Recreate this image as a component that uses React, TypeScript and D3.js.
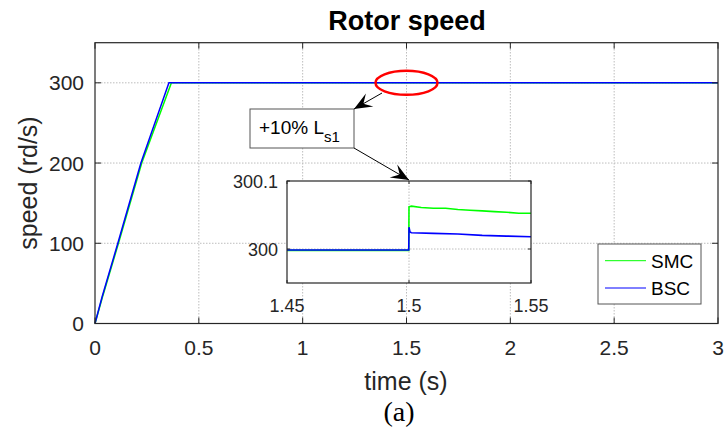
import React from "react";
import * as d3 from "d3";

const W = 725;
const H = 432;

// Main plot data (time in s, speed in rd/s)
const smcT = [0, 0.036, 0.113, 0.225, 0.368, 3];
const smcV = [0, 33, 100, 200, 300, 300];
const bscT = [0, 0.034, 0.11, 0.221, 0.356, 3];
const bscV = [0, 33, 100, 200, 300, 300];

const xTicks = [0, 0.5, 1, 1.5, 2, 2.5, 3];
const xTickLabels = ["0", "0.5", "1", "1.5", "2", "2.5", "3"];
const yTicks = [0, 100, 200, 300];
const yTickLabels = ["0", "100", "200", "300"];

// Inset (zoom) data
const inSmcT = [1.45, 1.47, 1.4999, 1.5, 1.501, 1.505, 1.51, 1.515, 1.52, 1.525, 1.53, 1.535, 1.54, 1.545, 1.55];
const inSmcV = [299.998, 299.998, 299.998, 300.062, 300.063, 300.061, 300.060, 300.060, 300.058, 300.057, 300.056, 300.055, 300.054, 300.0525, 300.0525];
const inBscT = [1.45, 1.47, 1.4999, 1.5, 1.5004, 1.501, 1.51, 1.52, 1.53, 1.54, 1.55];
const inBscV = [299.9985, 299.9985, 299.9985, 300.032, 300.025, 300.024, 300.023, 300.022, 300.020, 300.019, 300.018];
const inXTicks = [1.45, 1.5, 1.55];
const inXTickLabels = ["1.45", "1.5", "1.55"];
const inYTicks = [300, 300.1];
const inYTickLabels = ["300", "300.1"];

const legendItems = ["SMC", "BSC"];
const colors = ["#00ff00", "#0000ff"];

const FONT = "Liberation Sans, Arial, Helvetica, sans-serif";
const TXT = "#262626";

function arrowHead(x1: number, y1: number, x2: number, y2: number, L = 18, Wd = 15) {
  const a = Math.atan2(y2 - y1, x2 - x1);
  const ux = Math.cos(a), uy = Math.sin(a);
  const px = -uy, py = ux;
  const bx = x2 - ux * L, by = y2 - uy * L;
  const nx = x2 - ux * L * 0.6, ny = y2 - uy * L * 0.6;
  return `M${x2},${y2} L${bx + px * Wd / 2},${by + py * Wd / 2} L${nx},${ny} L${bx - px * Wd / 2},${by - py * Wd / 2} Z`;
}

export default function App() {
  const x = d3.scaleLinear().domain([0, 3]).range([95, 718]);
  const y = d3.scaleLinear().domain([0, 350]).range([323.5, 42.7]);

  const ix = d3.scaleLinear().domain([1.45, 1.55]).range([287, 531]);
  const iy = d3.scaleLinear().domain([299.95, 300.1]).range([283, 181]);

  const line = (tt: number[], vv: number[], sx: any, sy: any) =>
    d3.line<number>().x((_, i) => sx(tt[i])).y((d) => sy(d))(vv) as string;

  const [xl, xr] = x.range();
  const [yb, yt] = y.range();
  const [ixl, ixr] = ix.range();
  const [iyb, iyt] = iy.range();
  const tick = 6;

  // annotation geometry
  const ell = { cx: x(1.5), cy: y(300), rx: 31, ry: 12 };
  const box = { x: 250, y: 109, w: 104, h: 39 };
  const a1 = { x1: 382, y1: 93, x2: box.x + box.w, y2: box.y };
  const a2 = { x1: box.x + box.w, y1: box.y + box.h, x2: ix(1.5), y2: iyt - 1 };

  return (
    <svg width={W} height={H} style={{ display: "block", position: "absolute", left: 0, top: 0 }} fontFamily={FONT}>
      <rect width={W} height={H} fill="#fff" />
      {/* grid */}
      <g stroke="#bdbdbd" strokeWidth={1} strokeDasharray="1.5 1.5">
        {xTicks.slice(1, -1).map((t) => (
          <line key={"gx" + t} x1={x(t)} x2={x(t)} y1={yb} y2={yt} />
        ))}
        {yTicks.slice(1).map((t) => (
          <line key={"gy" + t} x1={xl} x2={xr} y1={y(t)} y2={y(t)} />
        ))}
      </g>
      {/* data */}
      <path d={line(smcT, smcV, x, y)} fill="none" stroke={colors[0]} strokeWidth={1.5} />
      <path d={line(bscT, bscV, x, y)} fill="none" stroke={colors[1]} strokeWidth={1.5} />
      {/* frame */}
      <rect x={xl} y={yt} width={xr - xl} height={yb - yt} fill="none" stroke={TXT} strokeWidth={1.2} />
      <g stroke={TXT} strokeWidth={1}>
        {xTicks.map((t) => (
          <g key={"tx" + t}>
            <line x1={x(t)} x2={x(t)} y1={yb} y2={yb - tick} />
            <line x1={x(t)} x2={x(t)} y1={yt} y2={yt + tick} />
          </g>
        ))}
        {yTicks.map((t) => (
          <g key={"ty" + t}>
            <line x1={xl} x2={xl + tick} y1={y(t)} y2={y(t)} />
            <line x1={xr} x2={xr - tick} y1={y(t)} y2={y(t)} />
          </g>
        ))}
      </g>
      <g fill={TXT} fontSize={21}>
        {xTicks.map((t, i) => (
          <text key={"lx" + t} x={x(t)} y={355} textAnchor="middle">{xTickLabels[i]}</text>
        ))}
        {yTicks.map((t, i) => (
          <text key={"ly" + t} x={xl - 11} y={y(t) + 7.5} textAnchor="end">{yTickLabels[i]}</text>
        ))}
      </g>
      <text x={406} y={390} textAnchor="middle" fontSize={25} fill={TXT}>time (s)</text>
      <text transform={`translate(37,183) rotate(-90)`} textAnchor="middle" fontSize={25} fill={TXT}>speed (rd/s)</text>
      <text x={407} y={30} textAnchor="middle" fontSize={27} fontWeight="bold" fill="#000">Rotor speed</text>
      <text x={399} y={421} textAnchor="middle" fontSize={28} fontFamily="Liberation Serif, Times New Roman, serif" fill="#000">(a)</text>

      {/* legend */}
      <rect x={598} y={244} width={103} height={60} fill="#fff" stroke="#555" strokeWidth={1} />
      {legendItems.map((name, i) => (
        <g key={name}>
          <line x1={605} x2={646} y1={260.7 + i * 27.3} y2={260.7 + i * 27.3} stroke={colors[i]} strokeWidth={1} />
          <text x={651} y={267.5 + i * 27.3} fontSize={19} fill="#000">{name}</text>
        </g>
      ))}

      {/* red ellipse */}
      <ellipse cx={ell.cx} cy={ell.cy} rx={ell.rx} ry={ell.ry} fill="none" stroke="#ff0000" strokeWidth={2.5} />

      {/* annotation box */}
      <rect x={box.x} y={box.y} width={box.w} height={box.h} fill="#fff" stroke="#555" strokeWidth={1} />
      <text x={259} y={134} fontSize={19} fill="#000">
        +10% L<tspan fontSize={15} dy={8}>s1</tspan>
      </text>

      {/* arrows */}
      <line x1={a1.x1} y1={a1.y1} x2={a1.x2} y2={a1.y2} stroke="#000" strokeWidth={1} />
      <path d={arrowHead(a1.x1, a1.y1, a1.x2, a1.y2)} fill="#000" />

      {/* inset */}
      <rect x={ixl} y={iyt} width={ixr - ixl} height={iyb - iyt} fill="#fff" />
      <g stroke="#bdbdbd" strokeWidth={1} strokeDasharray="1.5 1.5">
        <line x1={ix(1.5)} x2={ix(1.5)} y1={iyb} y2={iyt} />
        <line x1={ixl} x2={ixr} y1={iy(300)} y2={iy(300)} />
      </g>
      <path d={line(inSmcT, inSmcV, ix, iy)} fill="none" stroke={colors[0]} strokeWidth={1.6} />
      <path d={line(inBscT, inBscV, ix, iy)} fill="none" stroke={colors[1]} strokeWidth={1.6} />
      <rect x={ixl} y={iyt} width={ixr - ixl} height={iyb - iyt} fill="none" stroke={TXT} strokeWidth={1.2} />
      <g stroke={TXT} strokeWidth={1}>
        {inXTicks.map((t) => (
          <g key={"itx" + t}>
            <line x1={ix(t)} x2={ix(t)} y1={iyb} y2={iyb - 3} />
            <line x1={ix(t)} x2={ix(t)} y1={iyt} y2={iyt + 3} />
          </g>
        ))}
        {inYTicks.map((t) => (
          <g key={"ity" + t}>
            <line x1={ixl} x2={ixl + 3} y1={iy(t)} y2={iy(t)} />
            <line x1={ixr} x2={ixr - 3} y1={iy(t)} y2={iy(t)} />
          </g>
        ))}
      </g>
      <g fill={TXT} fontSize={18}>
        {inXTicks.map((t, i) => (
          <text key={"ilx" + t} x={ix(t)} y={312} textAnchor="middle">{inXTickLabels[i]}</text>
        ))}
        {inYTicks.map((t, i) => (
          <text key={"ily" + t} x={ixl - 9} y={iy(t) + 6.5} textAnchor="end">{inYTickLabels[i]}</text>
        ))}
      </g>

      <line x1={a2.x1} y1={a2.y1} x2={a2.x2} y2={a2.y2} stroke="#000" strokeWidth={1} />
      <path d={arrowHead(a2.x1, a2.y1, a2.x2, a2.y2)} fill="#000" />
    </svg>
  );
}
